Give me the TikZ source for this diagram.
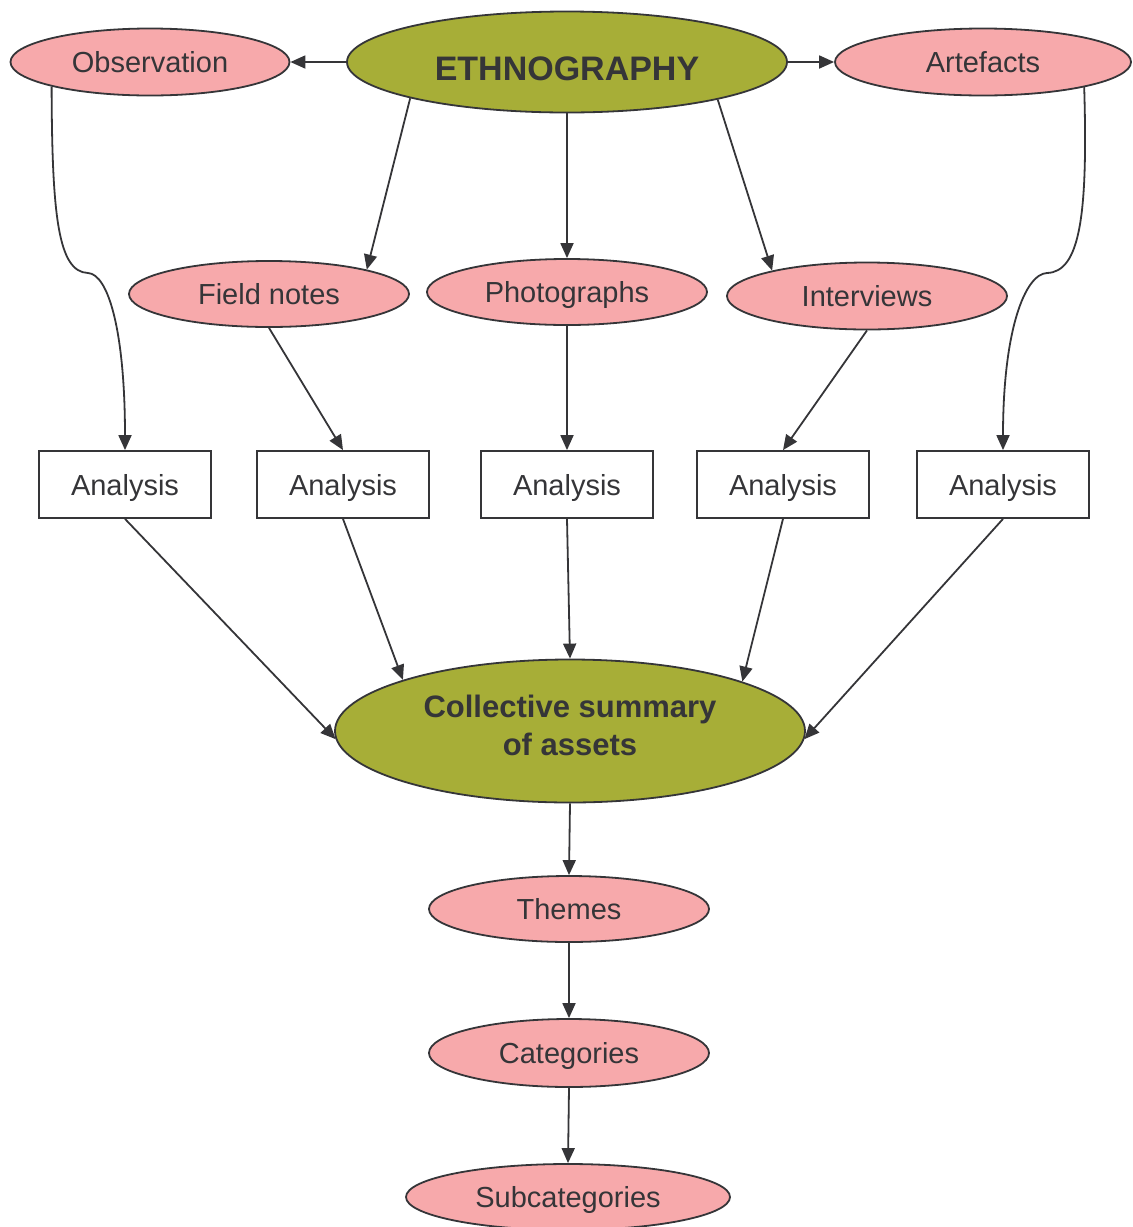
\documentclass[tikz,border=0pt]{standalone}
\usepackage{fontspec}
\setmainfont{Liberation Sans}
\usetikzlibrary{shapes.geometric,arrows.meta}
\definecolor{olivefill}{HTML}{A7AE37}
\definecolor{pinkfill}{HTML}{F7A9AB}
\definecolor{inkgray}{HTML}{353538}
\begin{document}
\begin{tikzpicture}[x=1pt,y=-1pt,
  base/.style={draw=inkgray, line width=1.8pt, text=inkgray, inner sep=0pt,
    font=\fontsize{29}{34}\selectfont, text height=21pt, text depth=0pt},
  pinkell/.style={base, ellipse, fill=pinkfill, minimum width=280pt, minimum height=67pt},
  greenell/.style={base, ellipse, fill=olivefill},
  anabox/.style={base, rectangle, fill=white, minimum width=172pt, minimum height=67pt},
  conn/.style={draw=inkgray, line width=1.8pt, -{Triangle[length=15pt,width=13pt]}}]
\useasboundingbox (0,0) rectangle (1133,1227);

% top row
\node[greenell, minimum width=440pt, minimum height=101pt, text height=36pt,
  font=\fontsize{34}{40}\selectfont\bfseries] (eth) at (567,62) {ETHNOGRAPHY\hspace{14pt}};
\node[pinkell, minimum width=279pt] (obs) at (150,62) {Observation\hspace{8pt}};
\node[pinkell, minimum width=296pt] (art) at (983,62) {Artefacts};

% data sources
\node[pinkell, minimum height=66pt] (fn) at (269,294) {Field notes};
\node[pinkell, minimum height=66pt] (ph) at (567,292) {Photographs};
\node[pinkell] (iv) at (867,296) {Interviews};

% analysis boxes
\node[anabox] (a1) at (125,484.5) {Analysis};
\node[anabox] (a2) at (343,484.5) {Analysis};
\node[anabox] (a3) at (567,484.5) {Analysis};
\node[anabox] (a4) at (783,484.5) {Analysis};
\node[anabox] (a5) at (1003,484.5) {Analysis};

% synthesis
\node[greenell, minimum width=470pt, minimum height=143pt, align=center,
  text height=, text depth=12pt,
  font=\fontsize{31}{38}\selectfont\bfseries] (cs) at (570,731)
  {Collective summary\\of assets};
\node[pinkell, minimum height=66pt] (th) at (569,909) {Themes};
\node[pinkell, minimum height=68pt] (cat) at (569,1053) {Categories};
\node[pinkell, minimum width=324pt, minimum height=66pt] (sub) at (568,1197) {Subcategories};

% connectors from the root
\draw[conn] (eth.west) -- (obs.east);
\draw[conn] (eth.east) -- (art.west);
\draw[conn] (eth.193.6) -- (fn.14);
\draw[conn] (eth.south) -- (ph.north);
\draw[conn] (eth.346.3) -- (iv.165.3);

% long side branches
\draw[conn] (obs.194) .. controls (52,215) and (58,272) .. (88,273)
  .. controls (108,274) and (125,330) .. (a1.north);
\draw[conn] (art.346) .. controls (1088,215) and (1080,272) .. (1047,273)
  .. controls (1025,274) and (1003,330) .. (a5.north);

% sources to analysis
\draw[conn] (fn.south) -- (a2.north);
\draw[conn] (ph.south) -- (a3.north);
\draw[conn] (iv.south) -- (a4.north);

% analysis to summary
\draw[conn] (a1.south) -- (cs.182);
\draw[conn] (a2.south) -- (cs.163.8);
\draw[conn] (a3.south) -- (cs.north);
\draw[conn] (a4.south) -- (cs.16);
\draw[conn] (a5.south) -- (cs.-2);

% summary chain
\draw[conn] (cs.south) -- (th.north);
\draw[conn] (th.south) -- (cat.north);
\draw[conn] (cat.south) -- (sub.north);
\end{tikzpicture}
\end{document}
